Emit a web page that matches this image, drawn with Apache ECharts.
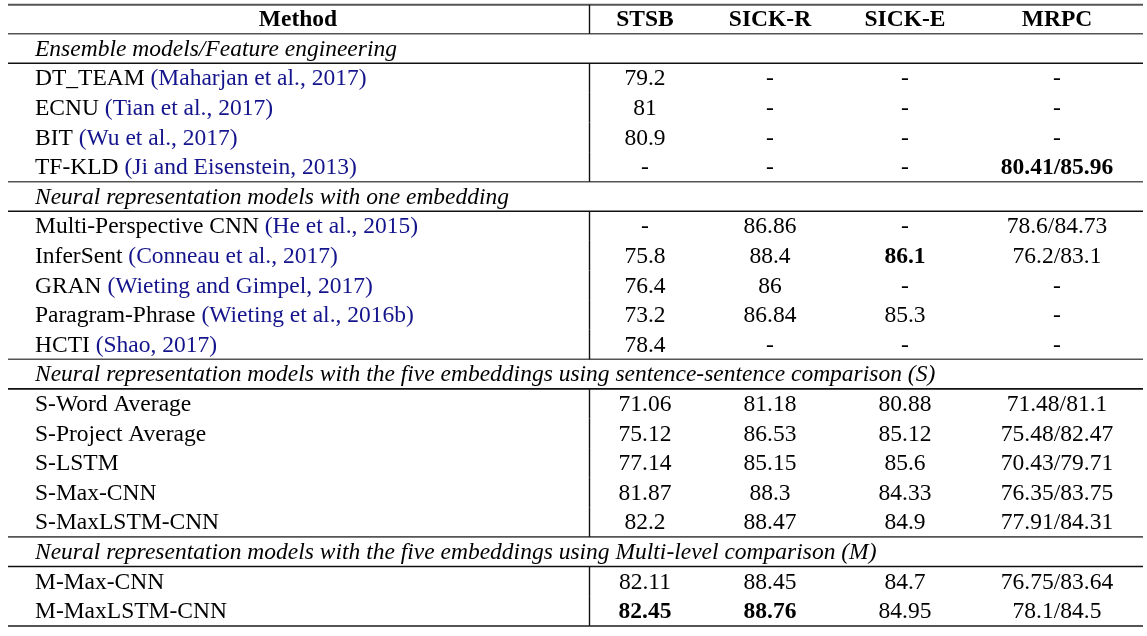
<!DOCTYPE html>
<html><head><meta charset="utf-8">
<script src="https://cdn.jsdelivr.net/npm/echarts@6/dist/echarts.min.js"></script>
<style>html,body{margin:0;padding:0;background:#fff}#c{width:1147px;height:636px}</style>
</head><body><div id="c"></div>
<script>
const columns = ["Method", "STSB", "SICK-R", "SICK-E", "MRPC"];
const sections = [
  "Ensemble models/Feature engineering",
  "Neural representation models with one embedding",
  "Neural representation models with the five embeddings using sentence-sentence comparison (S)",
  "Neural representation models with the five embeddings using Multi-level comparison (M)"
];
const sectionSizes = [4, 5, 5, 2];
const methods = ["DT_TEAM", "ECNU", "BIT", "TF-KLD",
  "Multi-Perspective CNN", "InferSent", "GRAN", "Paragram-Phrase", "HCTI",
  "S-Word Average", "S-Project Average", "S-LSTM", "S-Max-CNN", "S-MaxLSTM-CNN",
  "M-Max-CNN", "M-MaxLSTM-CNN"];
const citations = ["Maharjan et al., 2017", "Tian et al., 2017", "Wu et al., 2017", "Ji and Eisenstein, 2013",
  "He et al., 2015", "Conneau et al., 2017", "Wieting and Gimpel, 2017", "Wieting et al., 2016b", "Shao, 2017",
  "", "", "", "", "", "", ""];
const stsb  = ["79.2", "81", "80.9", "-", "-", "75.8", "76.4", "73.2", "78.4", "71.06", "75.12", "77.14", "81.87", "82.2", "82.11", "82.45"];
const sickR = ["-", "-", "-", "-", "86.86", "88.4", "86", "86.84", "-", "81.18", "86.53", "85.15", "88.3", "88.47", "88.45", "88.76"];
const sickE = ["-", "-", "-", "-", "-", "86.1", "-", "85.3", "-", "80.88", "85.12", "85.6", "84.33", "84.9", "84.7", "84.95"];
const mrpc  = ["-", "-", "-", "80.41/85.96", "78.6/84.73", "76.2/83.1", "-", "-", "-", "71.48/81.1", "75.48/82.47",
  "70.43/79.71", "76.35/83.75", "77.91/84.31", "76.75/83.64", "78.1/84.5"];

// ---- layout (not data) ----
const W = 1147;
const colX = [298, 645, 770, 905, 1057];
const methodX = 35, tableL = 8, tableR = 1143, vLineX = 589;
const FONT = '"Liberation Serif","Times New Roman",serif';
const FS = 23.5;
const TEXT_DY = 2;
const CITE = '#14148c';
const valueCols = [stsb, sickR, sickE, mrpc];
const num = s => s === '-' ? -Infinity : parseFloat(s.split('/')[0]);
const colMax = valueCols.map(col => Math.max(...col.map(num)));

// build rows
const rows = [{kind: 'header'}];
let mi = 0;
sections.forEach((s, si) => {
  rows.push({kind: 'section', text: s});
  for (let k = 0; k < sectionSizes[si]; k++) rows.push({kind: 'data', idx: mi++});
});
const N = rows.length;
const rowData = rows.map((r, i) => [0, i]);

// rule positions in row units
const rules = [];
rules.push({y: -0.45, w: 2, c: '#555'});
rows.forEach((r, i) => {
  if (i === N - 1) return;
  const next = rows[i + 1];
  if (r.kind === 'header' || r.kind === 'section' || next.kind === 'section')
    rules.push({y: i + 0.53, w: 1.6, c: (r.kind === 'section') ? '#111' : '#555'});
});
rules.push({y: N - 1 + 0.54, w: 2, c: '#555'});
const ruleData = rules.map((r, i) => [0, r.y]);

function renderRow(params, api) {
  const i = params.dataIndex;
  const r = rows[i];
  const yc = api.coord([0, i])[1] + TEXT_DY;
  const children = [];
  const txt = (x, text, align, opts) => children.push({
    type: 'text',
    style: Object.assign({
      x: x, y: yc, text: text, align: align, verticalAlign: 'middle',
      fontFamily: FONT, fontSize: FS, fill: '#000'
    }, opts || {})
  });
  if (r.kind === 'header') {
    columns.forEach((c, ci) => txt(api.coord([colX[ci], 0])[0], c, 'center', {fontWeight: 'bold'}));
  } else if (r.kind === 'section') {
    txt(api.coord([methodX, 0])[0], r.text, 'left', {fontStyle: 'italic'});
  } else {
    const m = r.idx;
    const cite = citations[m];
    const t = cite ? methods[m] + ' {c|(' + cite + ')}' : methods[m];
    txt(api.coord([methodX, 0])[0], t, 'left', {
      rich: {c: {fill: CITE, fontFamily: FONT, fontSize: FS}}
    });
    valueCols.forEach((col, ci) => {
      const v = col[m];
      const bold = v !== '-' && num(v) === colMax[ci];
      txt(api.coord([colX[ci + 1], 0])[0], v, 'center', bold ? {fontWeight: 'bold'} : {});
    });
  }
  if (r.kind !== 'section') {
    const top = api.coord([vLineX, i === 0 ? -0.45 : i - 0.47])[1];
    const bot = api.coord([vLineX, i + 0.53])[1];
    const x = Math.round(api.coord([vLineX, 0])[0]) + 0.5;
    children.push({type: 'line', shape: {x1: x, y1: top, x2: x, y2: bot},
      style: {stroke: '#111', lineWidth: 1.4}});
  }
  return {type: 'group', children: children};
}

function renderRule(params, api) {
  const r = rules[params.dataIndex];
  const y = api.coord([0, r.y])[1];
  const x1 = api.coord([tableL, 0])[0], x2 = api.coord([tableR, 0])[0];
  return {type: 'line', shape: {x1: x1, y1: y, x2: x2, y2: y}, style: {stroke: r.c, lineWidth: r.w}};
}

const chart = echarts.init(document.getElementById('c'), null, {renderer: 'canvas'});
const unit = (610 - 18) / (N - 1);
chart.setOption({
  animation: false,
  backgroundColor: '#fff',
  grid: {left: 0, right: 0, top: 18 - 0.6 * unit, bottom: 636 - (610 + 0.6 * unit)},
  xAxis: {type: 'value', min: 0, max: W, show: false},
  yAxis: {type: 'value', min: -0.6, max: N - 1 + 0.6, inverse: true, show: false},
  series: [
    {type: 'custom', renderItem: renderRule, data: ruleData, clip: false, silent: true, z: 1},
    {type: 'custom', renderItem: renderRow, data: rowData, clip: false, silent: true, z: 2}
  ]
});
</script></body></html>
